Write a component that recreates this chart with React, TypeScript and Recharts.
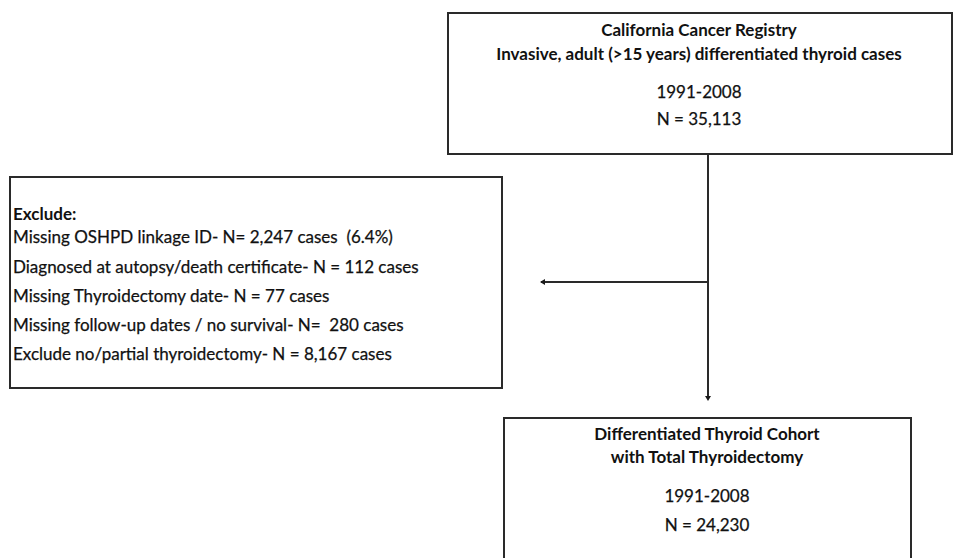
import { ComposedChart, XAxis, YAxis, Scatter, ReferenceArea, ReferenceLine } from "recharts";

const W = 957;
const H = 558;

// flowchart boxes (in page pixels, used as data units on hidden axes)
const boxes = [
  { id: "registry", x1: 448, x2: 952, y1: 13, y2: 154 },
  { id: "exclude", x1: 10, x2: 502, y1: 177, y2: 388 },
  { id: "cohort", x1: 504, x2: 911, y1: 418, y2: 580 },
];

const connectors = [
  { from: { x: 708, y: 154 }, to: { x: 708, y: 399 } },
  { from: { x: 708, y: 282 }, to: { x: 541, y: 282 } },
];

const arrowTips = [
  { x: 540, y: 282, dir: "left" },
  { x: 708, y: 401, dir: "down" },
];

const registryText = [
  { x: 699, y: 29, text: "California Cancer Registry", bold: true, anchor: "middle" },
  { x: 699, y: 53, text: "Invasive, adult (>15 years) differentiated thyroid cases", bold: true, anchor: "middle" },
  { x: 699, y: 91, text: "1991-2008", bold: false, anchor: "middle" },
  { x: 699, y: 118, text: "N = 35,113", bold: false, anchor: "middle" },
];

const excludeText = [
  { x: 13, y: 213, text: "Exclude:", bold: true, anchor: "start" },
  { x: 13, y: 236, text: "Missing OSHPD linkage ID- N= 2,247 cases  (6.4%)", bold: false, anchor: "start" },
  { x: 13, y: 266, text: "Diagnosed at autopsy/death certificate- N = 112 cases", bold: false, anchor: "start" },
  { x: 13, y: 295, text: "Missing Thyroidectomy date- N = 77 cases", bold: false, anchor: "start" },
  { x: 13, y: 324, text: "Missing follow-up dates / no survival- N=  280 cases", bold: false, anchor: "start" },
  { x: 13, y: 353, text: "Exclude no/partial thyroidectomy- N = 8,167 cases", bold: false, anchor: "start" },
];

const cohortText = [
  { x: 707, y: 433, text: "Differentiated Thyroid Cohort", bold: true, anchor: "middle" },
  { x: 707, y: 456, text: "with Total Thyroidectomy", bold: true, anchor: "middle" },
  { x: 707, y: 495, text: "1991-2008", bold: false, anchor: "middle" },
  { x: 707, y: 524, text: "N = 24,230", bold: false, anchor: "middle" },
];

const FONT = "Lato, 'Open Sans', sans-serif";

function TextShape(props: any) {
  const { cx, cy, payload } = props;
  return (
    <text
      x={cx}
      y={cy}
      textAnchor={payload.anchor}
      dominantBaseline="central"
      fontFamily={FONT}
      fontSize={17}
      fontWeight={payload.bold ? 700 : 400}
      fill="#111"
      stroke={payload.bold ? "none" : "#111"}
      strokeWidth={0.25}
      style={{ whiteSpace: "pre" }}
    >
      {payload.text}
    </text>
  );
}

function ArrowShape(props: any) {
  const { cx, cy, payload } = props;
  const pts =
    payload.dir === "left"
      ? `${cx},${cy} ${cx + 5},${cy - 3} ${cx + 5},${cy + 3}`
      : `${cx},${cy} ${cx - 3},${cy - 5} ${cx + 3},${cy - 5}`;
  return <polygon points={pts} fill="#1a1a1a" />;
}

export default function App() {
  return (
    <div style={{ position: "absolute", left: 0, top: 0, width: W, height: H, background: "#fff" }}>
      <ComposedChart width={W} height={H} margin={{ top: 0, right: 0, bottom: 0, left: 0 }}>
        <XAxis type="number" dataKey="x" domain={[0, W]} hide allowDataOverflow />
        <YAxis type="number" dataKey="y" domain={[0, H]} reversed hide allowDataOverflow />
        {boxes.map((b) => (
          <ReferenceArea
            key={b.id}
            x1={b.x1}
            x2={b.x2}
            y1={b.y1}
            y2={b.y2}
            fill="#fff"
            fillOpacity={1}
            stroke="#2a2a2a"
            strokeWidth={2}
            ifOverflow="visible"
          />
        ))}
        {connectors.map((c, i) => (
          <ReferenceLine
            key={i}
            segment={[c.from, c.to]}
            stroke="#2a2a2a"
            strokeWidth={2}
            ifOverflow="visible"
          />
        ))}
        <Scatter data={arrowTips} shape={ArrowShape} isAnimationActive={false} />
        <Scatter data={registryText} shape={TextShape} isAnimationActive={false} />
        <Scatter data={excludeText} shape={TextShape} isAnimationActive={false} />
        <Scatter data={cohortText} shape={TextShape} isAnimationActive={false} />
      </ComposedChart>
    </div>
  );
}
